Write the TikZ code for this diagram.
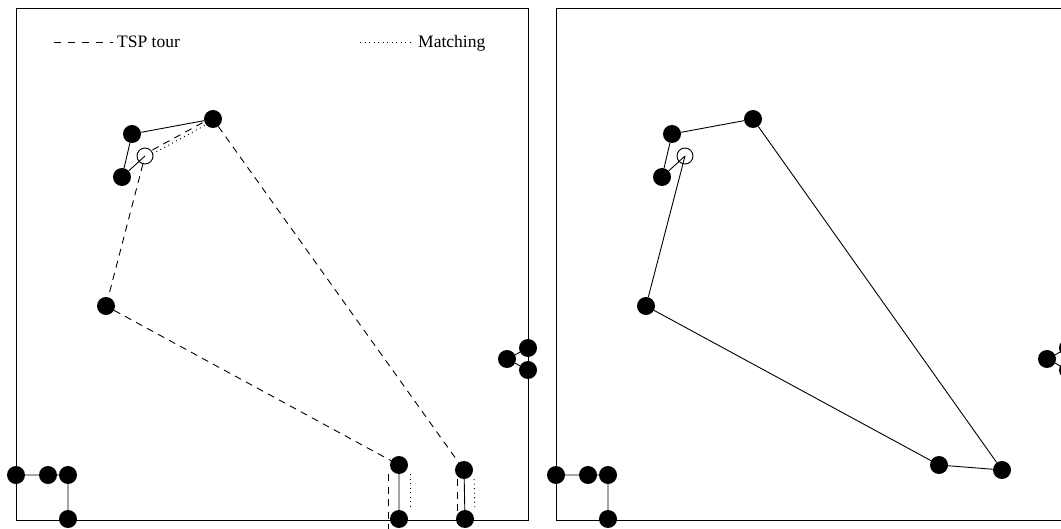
\documentclass[tikz,border=0pt]{standalone}
\usepackage{fontspec}
\setmainfont{Liberation Serif}
\tikzset{
  city/.style={circle, fill=black, inner sep=0pt, minimum size=18pt},
  depot/.style={circle, draw=black, inner sep=0pt, minimum size=16pt, line width=0.9pt},
  link/.style={line width=0.9pt},
  tour/.style={line width=0.9pt, dash pattern=on 7pt off 5.5pt},
  match/.style={line width=0.9pt, dash pattern=on 1pt off 3.5pt},
  legendtext/.style={anchor=base west, inner sep=0pt},
}
\begin{document}
\begin{tikzpicture}[x=1pt, y=-1pt, font=\fontsize{17.5}{20}\selectfont]
\useasboundingbox (0,0) rectangle (1061,529);
\clip (0,0) rectangle (1061,529);

% frames
\draw[link] (16,8) rectangle (528,520);
\draw[link] (556,8) rectangle (1068,520);

% legend
\coordinate (tspa) at (54,42);
\coordinate (tspb) at (113,42);
\node[legendtext] (tsplbl) at (117,48) {TSP tour};
\draw[tour, dash pattern=on 7pt off 7pt] (tspa) -- (tspb);
\coordinate (matcha) at (360,42);
\coordinate (matchb) at (411,42);
\node[legendtext] (matchlbl) at (418,48) {Matching};
\draw[match] (matcha) -- (matchb);

% left panel
\foreach \id/\x/\y in {a/132/134, b/213/119, c/122/177, d/106/306,
    e/399/465, f/399/519, g/464/470, h/465/519,
    i/507/359, j/528/348, k/528/370,
    l/16/475, m/48/475, n/68/475, p/68/519}
  \node[city] (L\id) at (\x,\y) {};
\node[depot] (Lo) at (145,156) {};

\draw[link] (La) -- (Lb) (La) -- (Lc) (Lc) -- (Lo.center)
  (Ll) -- (Lm) (Lm) -- (Ln) (Ln) -- (Lp)
  (Le) -- (Lf) (Lg) -- (Lh) (Li) -- (Lj) (Li) -- (Lk);

% tour
\coordinate (eend) at (399,545);
\coordinate (gend) at (464,545);
\draw[tour, transform canvas={yshift=2pt}] (Lo) -- (Lb);
\draw[tour] (Lo) -- (Ld) -- (Le);
\draw[tour] (Lb) -- (Lg);
\draw[tour, transform canvas={xshift=-11pt}] (Le) -- (eend);
\draw[tour, transform canvas={xshift=-7pt}] (Lg) -- (gend);

% matching
\draw[match, transform canvas={yshift=-2pt}] (Lo) -- (Lb);
\draw[match, transform canvas={xshift=11pt}] (Le) -- (Lf);
\draw[match, transform canvas={xshift=10pt}] (Lg) -- (Lh);

% right panel
\begin{scope}[xshift=540pt]
\foreach \id/\x/\y in {a/132/134, b/213/119, c/122/177, d/106/306,
    e/399/465, g/462/470,
    i/507/359, j/528/348, k/528/370,
    l/16/475, m/48/475, n/68/475, p/68/519}
  \node[city] (R\id) at (\x,\y) {};
\node[depot] (Ro) at (145,156) {};
\end{scope}

\draw[link] (Ra) -- (Rb) (Ra) -- (Rc) (Rc) -- (Ro.center)
  (Ro.center) -- (Rd) (Rd) -- (Re) (Re) -- (Rg) (Rg) -- (Rb)
  (Rl) -- (Rm) (Rm) -- (Rn) (Rn) -- (Rp)
  (Ri) -- (Rj) (Ri) -- (Rk);
\end{tikzpicture}
\end{document}
